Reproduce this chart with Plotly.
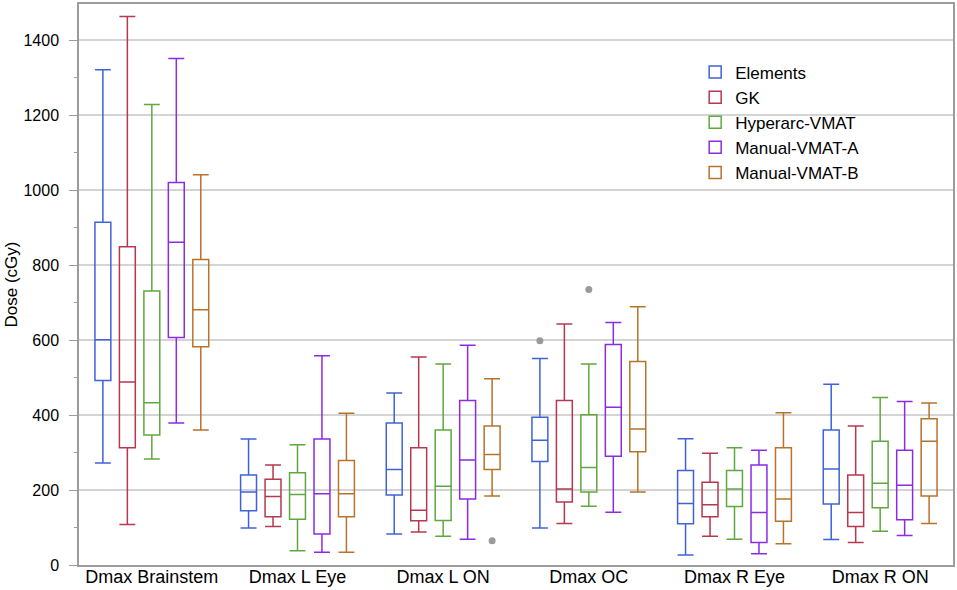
import plotly.graph_objects as go

categories = ["Dmax Brainstem", "Dmax L Eye", "Dmax L ON", "Dmax OC", "Dmax R Eye", "Dmax R ON"]

# per series: lower whisker, q1, median, q3, upper whisker, outlier (None = no outlier)
elements_low = [272, 99, 83, 99, 27, 68]
elements_q1 = [492, 145, 187, 276, 110, 163]
elements_med = [601, 195, 255, 333, 164, 256]
elements_q3 = [914, 240, 379, 394, 252, 360]
elements_high = [1321, 336, 459, 551, 337, 482]
elements_out = [None, None, None, 598, None, None]

gk_low = [108, 103, 88, 111, 77, 60]
gk_q1 = [313, 129, 118, 168, 129, 103]
gk_med = [488, 183, 146, 203, 161, 140]
gk_q3 = [849, 229, 313, 439, 221, 240]
gk_high = [1463, 267, 555, 643, 298, 371]
gk_out = [None, None, None, None, None, None]

hyper_low = [283, 38, 77, 157, 69, 90]
hyper_q1 = [347, 122, 119, 195, 156, 153]
hyper_med = [433, 188, 210, 260, 203, 218]
hyper_q3 = [731, 246, 360, 401, 252, 330]
hyper_high = [1228, 321, 536, 536, 313, 447]
hyper_out = [None, None, None, 735, None, None]

manual_a_low = [379, 34, 69, 141, 30, 79]
manual_a_q1 = [607, 83, 176, 290, 60, 121]
manual_a_med = [861, 190, 280, 421, 140, 213]
manual_a_q3 = [1020, 336, 439, 588, 267, 306]
manual_a_high = [1351, 558, 586, 647, 306, 436]
manual_a_out = [None, None, None, None, None, None]

manual_b_low = [360, 34, 184, 195, 57, 111]
manual_b_q1 = [582, 129, 255, 302, 117, 184]
manual_b_med = [681, 190, 295, 363, 176, 330]
manual_b_q3 = [815, 279, 371, 543, 313, 390]
manual_b_high = [1041, 405, 497, 689, 406, 432]
manual_b_out = [None, None, 65, None, None, None]

series = [
    ("Elements", "#3f63d6", elements_low, elements_q1, elements_med, elements_q3, elements_high, elements_out),
    ("GK", "#b5384f", gk_low, gk_q1, gk_med, gk_q3, gk_high, gk_out),
    ("Hyperarc-VMAT", "#5fa840", hyper_low, hyper_q1, hyper_med, hyper_q3, hyper_high, hyper_out),
    ("Manual-VMAT-A", "#8b2be2", manual_a_low, manual_a_q1, manual_a_med, manual_a_q3, manual_a_high, manual_a_out),
    ("Manual-VMAT-B", "#b8732a", manual_b_low, manual_b_q1, manual_b_med, manual_b_q3, manual_b_high, manual_b_out),
]

fig = go.Figure()

for name, color, low, q1, med, q3, high, out in series:
    fig.add_trace(go.Box(
        name=name,
        x=categories,
        q1=q1,
        median=med,
        q3=q3,
        lowerfence=low,
        upperfence=high,
        line=dict(color=color, width=1.5),
        fillcolor="rgba(0,0,0,0)",
        whiskerwidth=1,
        hoverinfo="skip",
    ))

# outliers, placed next to their boxes by the scatter grouping
for name, color, low, q1, med, q3, high, out in series:
    fig.add_trace(go.Scatter(
        x=categories,
        y=out,
        mode="markers",
        marker=dict(color="#9a9a9a", size=7),
        offsetgroup=name,
        alignmentgroup="outliers",
        showlegend=False,
        hoverinfo="skip",
    ))

fig.update_layout(
    width=957,
    height=590,
    boxmode="group",
    boxgap=0.16,
    boxgroupgap=0.35,
    scattermode="group",
    scattergap=0.16,
    plot_bgcolor="white",
    paper_bgcolor="white",
    margin=dict(l=79, r=4, t=4, b=25),
    font=dict(family="Liberation Sans", color="black", size=16),
    legend=dict(
        x=0.705, y=0.91, xanchor="left", yanchor="top",
        font=dict(size=17),
        bgcolor="rgba(255,255,255,0)",
    ),
)

fig.update_xaxes(
    showline=True, linecolor="#9c9c9c", linewidth=1.5, mirror=True,
    ticks="", tickfont=dict(size=18),
    ticklabelstandoff=-5,
    showgrid=False,
    automargin=False,
)

fig.update_yaxes(
    range=[0, 1496],
    dtick=200,
    showline=True, linecolor="#9c9c9c", linewidth=1.5, mirror=True,
    ticks="outside", ticklen=8, tickcolor="#9c9c9c",
    ticklabelstandoff=7,
    minor=dict(dtick=100, ticks="outside", ticklen=3, tickcolor="#9c9c9c", showgrid=False),
    showgrid=True, gridcolor="#d4d4d4", gridwidth=1.5,
    zeroline=False,
    tickfont=dict(size=16),
    title=dict(text="Dose (cGy)", font=dict(size=17), standoff=2),
    automargin=False,
)

fig.write_html(
    "out.html",
    config={"displayModeBar": False},
    post_script="document.body.style.margin='0';",
)
